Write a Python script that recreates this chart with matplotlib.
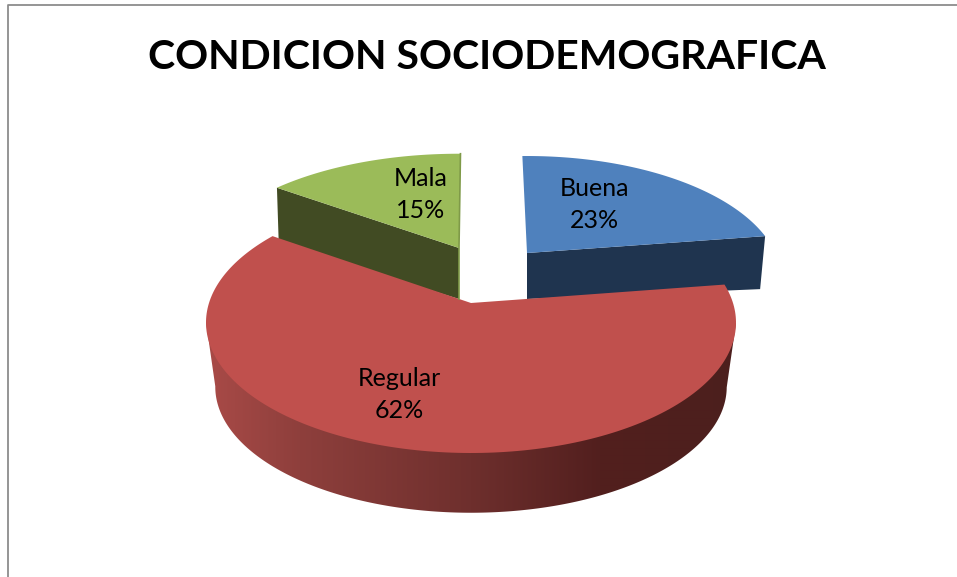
import numpy as np
import matplotlib
matplotlib.use('Agg')
import matplotlib.pyplot as plt
from matplotlib.colors import to_rgb
from matplotlib.patches import Polygon

# chart values
categories = ['Buena', 'Regular', 'Mala']
values = [23, 62, 15]
title = 'CONDICION SOCIODEMOGRAFICA'

# styles of the slices
top_colors = ['#4f81bd', '#c0504d', '#9bbb59']
wall_colors = ['#1f344f', '#8e3f3c', '#414b23']
apex = [(527, 253), (471, 303), (459, 248)]
label_pos = [(594, 188), (399, 378), (421, 178)]

# projection of each slice: x radius, y radius, squeeze of the far side, turn
radius_x = [248.4, 262, 255]
radius_y = [117.8, 127.5, 114.5]
squeeze = [0.2146, 0.15, 0.2146]
turn = [0, 0, -1.7]
start_angle = 91.3


def project(theta, i, scale=1.0):
    u = np.cos(np.radians(theta + turn[i]))
    v = np.sin(np.radians(theta + turn[i]))
    w = 1 + squeeze[i] * v
    return apex[i][0] + scale * radius_x[i] * u / w, apex[i][1] - scale * radius_y[i] * v / w


def top_face(a0, a1, i):
    t = np.linspace(a0, a1, 200)
    x, y = project(t, i)
    return np.vstack([[apex[i]], np.column_stack([x, y])])


def cut_face(theta, i, d_apex, d_edge, s):
    # flat wall between the centre and the rim, seen from the front
    ex, ey = project(theta, i)
    bx = apex[i][0] + (ex - apex[i][0]) * s
    return [apex[i], (ex, ey), (bx, ey + d_edge), (apex[i][0], apex[i][1] + d_apex)]


fig = plt.figure(figsize=(9.57, 5.77), dpi=100)
ax = fig.add_axes([0, 0, 1, 1])
ax.axis('off')

# chart border, only top and left are in the picture
ax.plot([7.5, 7.5, 957], [577, 4.5, 4.5], color='#8c8c8c', lw=1.3)

fractions = np.array(values) / sum(values)
ends = start_angle - 360 * np.cumsum(fractions)
starts = np.r_[start_angle, ends[:-1]]

# green slice, lower corner of the wall goes under the red top
ax.fill(*zip(*cut_face(starts[2], 2, 51, 56, 0.99)), color=wall_colors[2], lw=0)
ax.fill(*top_face(starts[2], ends[2], 2).T, color=top_colors[2], lw=0)
ex, ey = project(ends[2], 2)
ax.plot([ex, apex[2][0], apex[2][0]], [ey, apex[2][1], apex[2][1] + 51], color='#7f9a48', lw=1.2)

# blue slice
ax.fill(*zip(*cut_face(ends[0], 0, 46, 53, 0.979)), color=wall_colors[0], lw=0)
ax.fill(*top_face(starts[0], ends[0], 0).T, color=top_colors[0], lw=0)

# red slice, outer wall with a gradient from left to right
t = np.linspace(ends[1], starts[1], 400)
tx, ty = project(t, 1)
bx, by = project(t, 1, 0.965)
by = by + 65
stops_x = [210, 300, 471, 600, 735]
stops_c = np.array([to_rgb(c) for c in ['#a84a47', '#8e3f3c', '#6e2f2d', '#521f1e', '#4c1f1d']])
xs = np.arange(200, 745)
grad = np.column_stack([np.interp(xs, stops_x, stops_c[:, i]) for i in range(3)])[np.newaxis, :, :]
img = ax.imshow(grad, extent=(200, 745, 530, 290), aspect='auto', interpolation='bilinear')
# outline of the wall: left end of the top rim, down, along the bottom rim, up to the right end
i0, i1 = np.argmin(tx), np.argmax(tx)
outline = np.vstack([[(tx[i0], ty[i0])],
                     np.column_stack([bx[i0:i1 + 1], by[i0:i1 + 1]]),
                     [(tx[i1], ty[i1])]])
wall = Polygon(outline, transform=ax.transData, fc='none', ec='none')
ax.add_patch(wall)
img.set_clip_path(wall)
ax.fill(*top_face(starts[1], ends[1], 1).T, color=top_colors[1], lw=0)

# texts
font = 'Lato'
for name, val, pos in zip(categories, values, label_pos):
    ax.text(pos[0], pos[1], name, ha='center', va='center', fontsize=18, family=font, color='black')
    ax.text(pos[0], pos[1] + 33, f'{val}%', ha='center', va='center', fontsize=18, family=font, color='black')
ax.text(487, 57.5, title, ha='center', va='center', fontsize=29.5, fontweight='bold', family=font, color='black')

ax.set_xlim(0, 957)
ax.set_ylim(577, 0)
fig.savefig('out.png', dpi=100)
